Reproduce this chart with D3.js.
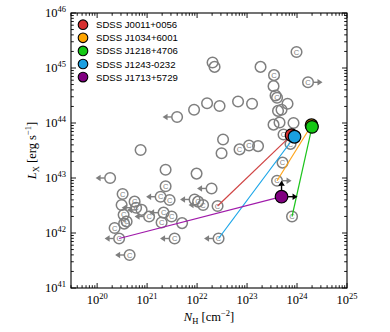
<!DOCTYPE html>
<html>
<head>
<meta charset="utf-8">
<script src="https://cdn.jsdelivr.net/npm/d3@7"></script>
<style>
  body { margin: 0; background: #fff; }
  svg { display: block; }
</style>
</head>
<body>
<div id="chart"></div>
<script>
// comparison sample (log10 values)
const sampleLogNH = [21.60, 21.94, 20.87, 21.37, 21.99, 20.26, 23.99, 22.31, 22.35, 23.27,
  23.54, 23.53, 24.22, 23.57, 23.60, 23.81, 22.20, 22.45, 22.82, 23.10,
  23.62, 23.69, 23.53, 23.65, 23.93, 23.73, 23.87, 22.52, 22.49, 22.85,
  23.04, 23.22, 23.71, 23.60, 23.90, 22.41, 22.43, 20.44, 21.37, 20.51,
  20.49, 20.75, 20.78, 20.89, 21.27, 21.45, 21.04, 21.33, 21.49, 21.29,
  21.70, 20.53, 20.59, 20.54, 20.35, 21.55, 20.65, 21.95, 22.02, 22.12, 22.29]
const sampleLogLX = [44.11, 44.24, 43.51, 43.15, 43.08, 43.00, 45.29, 45.10, 45.02, 45.02,
  44.87, 44.67, 44.74, 44.50, 44.46, 44.35, 44.36, 44.31, 44.39, 44.35,
  44.22, 44.24, 43.97, 44.01, 44.00, 43.79, 43.62, 43.70, 43.45, 43.52,
  43.59, 43.58, 43.28, 42.95, 42.30, 42.49, 41.90, 41.90, 42.85, 42.71,
  42.51, 42.57, 42.46, 42.42, 42.66, 42.60, 42.30, 42.37, 42.30, 42.19,
  42.18, 42.33, 42.21, 42.17, 42.09, 41.90, 41.60, 42.61, 42.57, 42.51, 42.81]
// 1 = compton-thick flag ("C" marker)
const sampleCT = [0, 0, 0, 0, 0, 0, 1, 0, 0, 0,
  1, 0, 1, 0, 1, 0, 0, 0, 0, 0,
  0, 0, 0, 0, 0, 1, 1, 0, 0, 1,
  1, 0, 1, 1, 1, 1, 1, 1, 1, 1,
  0, 1, 1, 0, 1, 1, 1, 1, 1, 1,
  0, 1, 1, 1, 1, 1, 1, 0, 1, 1, 0]
// NH limits: "l" = upper limit (arrow left), "r" = lower limit (arrow right)
const sampleLimit = ["l", "", "", "", "", "l", "", "", "", "",
  "", "", "r", "", "", "", "", "", "", "",
  "", "", "", "", "", "", "", "", "", "",
  "", "", "", "r", "", "", "l", "l", "", "",
  "", "", "l", "l", "l", "", "l", "l", "", "",
  "", "", "", "", "", "l", "l", "l", "", "l", "l"]

// highlighted sources
const srcNames = ["SDSS J0011+0056", "SDSS J1034+6001", "SDSS J1218+4706", "SDSS J1243-0232", "SDSS J1713+5729"]
const srcColors = ["#d62f2f", "#ffa500", "#14c814", "#1a9fe0", "#800080"]
const lineColors = ["#d04545", "#ffa51a", "#1cc41c", "#1aa5e8", "#a01aaa"]
const srcStartLogNH = [22.41, 23.60, 23.90, 22.43, 20.44]
const srcStartLogLX = [42.49, 42.95, 42.30, 41.90, 41.90]
const srcLogNH = [23.89, 24.29, 24.30, 23.95, 23.69]
const srcLogLX = [43.78, 43.96, 43.93, 43.75, 42.66]

const width = 390, height = 332
const margin = { top: 13, left: 71, right: 43, bottom: 44 }
const gray = "#7f7f7f"

const svg = d3.select("#chart").append("svg")
  .attr("width", width).attr("height", height)

const x = d3.scaleLog().domain([3e19, 1e25]).range([margin.left, width - margin.right])
const y = d3.scaleLog().domain([1e41, 1e46]).range([height - margin.bottom, margin.top])
const x0 = x.range()[0], x1 = x.range()[1], y0 = y.range()[0], y1 = y.range()[1]

// ticks on all four sides, pointing inward
const axisG = svg.append("g").attr("stroke", "#000").attr("stroke-width", 0.9)
function minorMajor(lo, hi) {
  const out = []
  for (let e = lo; e <= hi; e++) {
    for (let m = 1; m <= 9; m++) out.push({ v: m * Math.pow(10, e), major: m === 1 })
  }
  return out
}
minorMajor(19, 25).filter(t => t.v >= 3e19 && t.v <= 1e25).forEach(t => {
  const len = t.major ? 5 : 2.8
  const px = x(t.v)
  axisG.append("line").attr("x1", px).attr("x2", px).attr("y1", y0).attr("y2", y0 - len)
  axisG.append("line").attr("x1", px).attr("x2", px).attr("y1", y1).attr("y2", y1 + len)
})
minorMajor(41, 46).filter(t => t.v <= 1e46).forEach(t => {
  const len = t.major ? 5 : 2.8
  const py = y(t.v)
  axisG.append("line").attr("x1", x0).attr("x2", x0 + len).attr("y1", py).attr("y2", py)
  axisG.append("line").attr("x1", x1).attr("x2", x1 - len).attr("y1", py).attr("y2", py)
})
svg.append("rect").attr("x", x0).attr("y", y1).attr("width", x1 - x0).attr("height", y0 - y1)
  .attr("fill", "none").attr("stroke", "#000").attr("stroke-width", 1.1)

const serif = "'Liberation Serif', 'DejaVu Serif', serif"
function powLabel(sel, e) {
  sel.append("tspan").text("10")
  sel.append("tspan").attr("font-size", 8.5).attr("dy", -5).text(e)
}
d3.range(20, 26).forEach(e => {
  const t = svg.append("text").attr("x", x(Math.pow(10, e))).attr("y", 304)
    .attr("text-anchor", "middle").attr("font-family", serif).attr("font-size", 12.5)
  powLabel(t, e)
})
d3.range(41, 47).forEach(e => {
  const t = svg.append("text").attr("x", 66).attr("y", y(Math.pow(10, e)) + 4)
    .attr("text-anchor", "end").attr("font-family", serif).attr("font-size", 12.5)
  powLabel(t, e)
})

// axis titles
const xt = svg.append("text").attr("x", (x0 + x1) / 2).attr("y", 321)
  .attr("text-anchor", "middle").attr("font-family", serif).attr("font-size", 12.5)
xt.append("tspan").attr("font-style", "italic").text("N")
xt.append("tspan").attr("font-size", 8.5).attr("dy", 2.5).text("H")
xt.append("tspan").attr("dy", -2.5).text(" [cm")
xt.append("tspan").attr("font-size", 8.5).attr("dy", -5).text("−2")
xt.append("tspan").attr("dy", 5).text("]")

const yt = svg.append("text").attr("transform", `translate(36, ${(y0 + y1) / 2}) rotate(-90)`)
  .attr("text-anchor", "middle").attr("font-family", serif).attr("font-size", 12.5)
yt.append("tspan").attr("font-style", "italic").text("L")
yt.append("tspan").attr("font-size", 8.5).attr("dy", 2.5).text("X")
yt.append("tspan").attr("dy", -2.5).text(" [erg s")
yt.append("tspan").attr("font-size", 8.5).attr("dy", -5).text("−1")
yt.append("tspan").attr("dy", 5).text("]")

// arrow helper: dir = [dx, dy] unit vector
function arrow(g, cx, cy, dir, color, start, tip) {
  const [dx, dy] = dir
  const head = 5, half = 3.3
  g.append("line")
    .attr("x1", cx + dx * start).attr("y1", cy + dy * start)
    .attr("x2", cx + dx * (tip - head + 0.5)).attr("y2", cy + dy * (tip - head + 0.5))
    .attr("stroke", color).attr("stroke-width", 1.4)
  const tx = cx + dx * tip, ty = cy + dy * tip
  const bx = cx + dx * (tip - head), by = cy + dy * (tip - head)
  g.append("path")
    .attr("d", `M${tx},${ty}L${bx - dy * half},${by + dx * half}L${bx + dy * half},${by - dx * half}Z`)
    .attr("fill", color)
}

// comparison sample
const sample = sampleLogNH.map((n, i) => ({ n: n, l: sampleLogLX[i], ct: sampleCT[i], lim: sampleLimit[i] }))
const sg = svg.append("g")
sample.forEach(d => {
  const cx = x(Math.pow(10, d.n)), cy = y(Math.pow(10, d.l))
  if (d.lim === "l") arrow(sg, cx, cy, [-1, 0], gray, 5.5, 14.5)
  if (d.lim === "r") arrow(sg, cx, cy, [1, 0], gray, 5.5, 14.5)
})
sg.selectAll("circle").data(sample).enter().append("circle")
  .attr("cx", d => x(Math.pow(10, d.n)))
  .attr("cy", d => y(Math.pow(10, d.l)))
  .attr("r", 5.3)
  .attr("fill", "none")
  .attr("stroke", gray)
  .attr("stroke-width", 1.5)
sg.selectAll("text.ct").data(sample.filter(d => d.ct)).enter().append("text")
  .attr("class", "ct")
  .attr("x", d => x(Math.pow(10, d.n)))
  .attr("y", d => y(Math.pow(10, d.l)) + 2.6)
  .attr("text-anchor", "middle")
  .attr("font-family", "'Liberation Sans', Arial, sans-serif")
  .attr("font-size", 7.5)
  .attr("fill", gray)
  .text("C")

// connecting lines
const src = srcNames.map((name, i) => ({
  name: name, color: srcColors[i], lc: lineColors[i],
  sn: srcStartLogNH[i], sl: srcStartLogLX[i], n: srcLogNH[i], l: srcLogLX[i]
}))
svg.append("g").selectAll("line").data(src).enter().append("line")
  .attr("x1", d => x(Math.pow(10, d.sn)))
  .attr("y1", d => y(Math.pow(10, d.sl)))
  .attr("x2", d => x(Math.pow(10, d.n)))
  .attr("y2", d => y(Math.pow(10, d.l)))
  .attr("stroke", d => d.lc)
  .attr("stroke-width", 1.2)

// lower limits on the last source
const lastSrc = src[src.length - 1]
const ag = svg.append("g")
arrow(ag, x(Math.pow(10, lastSrc.n)), y(Math.pow(10, lastSrc.l)), [0, -1], "#000", 6, 16)
arrow(ag, x(Math.pow(10, lastSrc.n)), y(Math.pow(10, lastSrc.l)), [1, 0], "#000", 6, 16)

svg.append("g").selectAll("circle").data(src).enter().append("circle")
  .attr("cx", d => x(Math.pow(10, d.n)))
  .attr("cy", d => y(Math.pow(10, d.l)))
  .attr("r", 6.3)
  .attr("fill", d => d.color)
  .attr("stroke", "#000")
  .attr("stroke-width", 1.2)

// legend
const lg = svg.append("g")
src.forEach((d, i) => {
  const ly = 24.7 + i * 13.1
  lg.append("circle").attr("cx", 83).attr("cy", ly).attr("r", 4.8)
    .attr("fill", d.color).attr("stroke", "#000").attr("stroke-width", 1.1)
  lg.append("text").attr("x", 96).attr("y", ly + 3.5)
    .attr("font-family", "'Liberation Sans', Arial, sans-serif")
    .attr("font-size", 9.6)
    .text(d.name)
})
</script>
</body>
</html>
